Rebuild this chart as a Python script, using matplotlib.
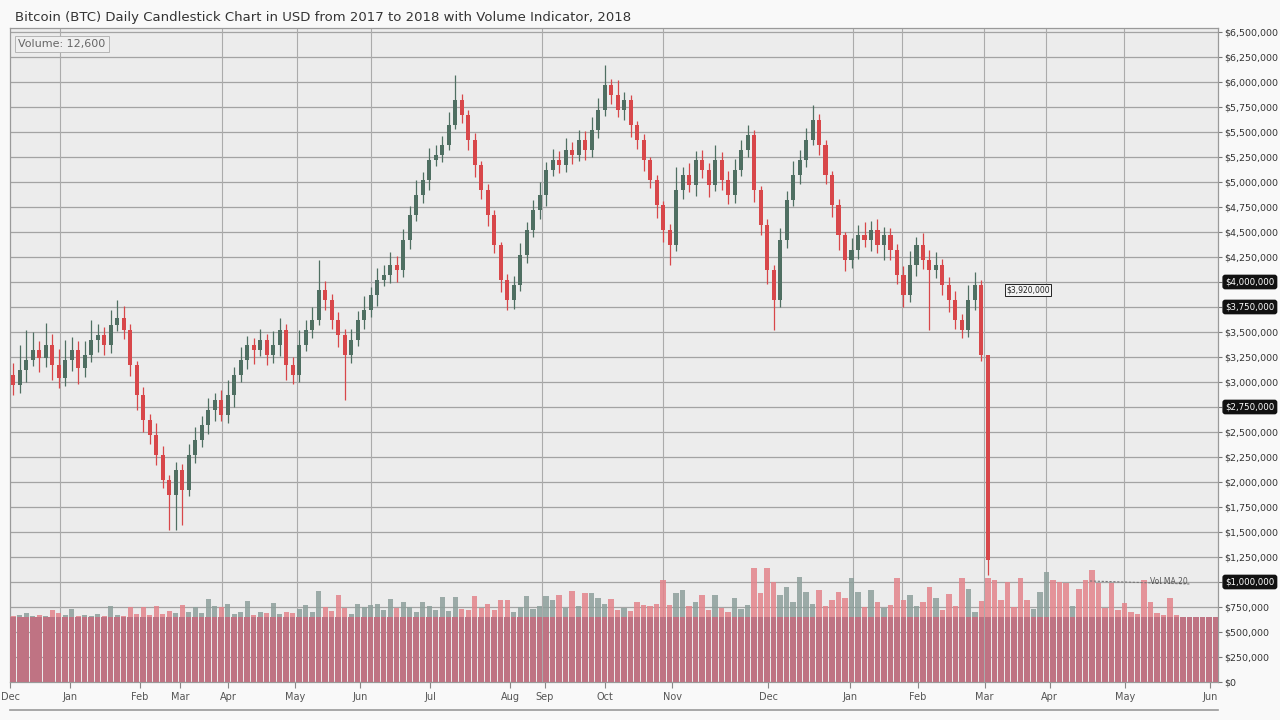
import matplotlib.pyplot as plt
import matplotlib.transforms as mtransforms
import numpy as np
from matplotlib.lines import Line2D
from matplotlib.ticker import FuncFormatter, MultipleLocator

TITLE = ("Bitcoin (BTC) Daily Candlestick Chart in USD from 2017 to 2018 "
         "with Volume Indicator, 2018")
VOLUME_LABEL = "Volume: 12,600"

# daily closes in thousand USD, open of each day = previous close
first_open_k = 3070
close_k = [
    2970, 3120, 3220, 3320, 3240, 3370, 3170, 3040, 3220, 3320,
    3140, 3270, 3420, 3470, 3370, 3570, 3640, 3520, 3170, 2870,
    2620, 2470, 2270, 2020, 1870, 2120, 1920, 2270, 2420, 2570,
    2720, 2820, 2670, 2870, 3070, 3220, 3370, 3320, 3420, 3270,
    3370, 3520, 3170, 3070, 3370, 3520, 3620, 3920, 3820, 3620,
    3470, 3270, 3420, 3620, 3720, 3870, 4020, 4070, 4170, 4120,
    4420, 4670, 4870, 5020, 5220, 5270, 5370, 5570, 5820, 5670,
    5420, 5170, 4920, 4670, 4370, 4020, 3820, 3970, 4270, 4520,
    4720, 4870, 5120, 5220, 5170, 5320, 5270, 5420, 5320, 5520,
    5720, 5970, 5870, 5720, 5820, 5570, 5420, 5220, 5020, 4770,
    4520, 4370, 4920, 5070, 4970, 5220, 5120, 4970, 5220, 5020,
    4870, 5120, 5320, 5470, 4920, 4570, 4120, 3820, 4420, 4820,
    5070, 5220, 5420, 5620, 5370, 5070, 4770, 4470, 4220, 4320,
    4470, 4420, 4520, 4370, 4470, 4320, 4070, 3870, 4170, 4370,
    4220, 4120, 4170, 3970, 3820, 3620, 3520, 3820, 3970, 3270,
    1220,
]
# wick length above / below the body, thousand USD
wick_hi_k = [
    120, 250, 300, 180, 90, 220, 110, 160, 200, 130,
    90, 140, 200, 110, 80, 150, 180, 120, 60, 40,
    80, 60, 120, 90, 50, 80, 60, 110, 130, 90,
    120, 70, 100, 150, 80, 130, 90, 70, 110, 60,
    140, 120, 60, 80, 150, 100, 130, 300, 90, 60,
    80, 60, 110, 90, 140, 80, 120, 100, 130, 90,
    110, 90, 150, 80, 120, 100, 90, 130, 250, 60,
    50, 70, 40, 60, 50, 30, 60, 90, 120, 80,
    100, 130, 80, 110, 90, 120, 80, 100, 90, 130,
    120, 200, 60, 150, 80, 50, 40, 60, 30, 50,
    40, 60, 230, 80, 120, 90, 100, 70, 150, 80,
    90, 110, 100, 100, 50, 40, 60, 50, 120, 90,
    140, 100, 120, 150, 60, 50, 40, 60, 30, 120,
    100, 130, 90, 110, 80, 70, 60, 90, 140, 80,
    120, 100, 130, 60, 80, 90, 60, 150, 130, 50,
    0,
]
wick_lo_k = [
    100, 80, 120, 60, 140, 90, 150, 100, 80, 110,
    160, 90, 70, 120, 100, 80, 60, 90, 110, 150,
    120, 90, 100, 80, 350, 350, 350, 60, 80, 70,
    90, 110, 60, 80, 120, 70, 90, 140, 60, 100,
    80, 110, 150, 90, 70, 60, 80, 50, 100, 90,
    120, 450, 80, 60, 90, 70, 110, 60, 80, 120,
    70, 90, 60, 80, 100, 60, 70, 50, 40, 80,
    100, 120, 90, 110, 80, 120, 100, 90, 60, 80,
    70, 90, 110, 60, 80, 70, 90, 60, 100, 70,
    80, 60, 90, 70, 100, 120, 90, 110, 80, 130,
    120, 200, 60, 90, 70, 110, 80, 120, 60, 100,
    90, 80, 60, 70, 120, 100, 140, 300, 70, 80,
    60, 90, 70, 50, 100, 90, 120, 150, 110, 80,
    90, 70, 110, 80, 150, 100, 90, 120, 70, 110,
    90, 600, 80, 100, 120, 90, 80, 70, 100, 60,
    150,
]
# traded volume (thousand BTC), continues past the last candle
volume = [
    66, 67, 69, 66, 67, 66, 72, 69, 67, 73,
    66, 67, 66, 68, 66, 76, 67, 66, 75, 68,
    75, 67, 76, 68, 71, 69, 77, 70, 75, 69,
    83, 76, 75, 78, 68, 70, 81, 67, 70, 69,
    79, 68, 70, 69, 73, 77, 70, 91, 75, 71,
    87, 74, 68, 78, 75, 77, 78, 72, 83, 74,
    80, 75, 70, 80, 76, 72, 85, 71, 85, 73,
    72, 86, 74, 78, 72, 82, 82, 70, 75, 86,
    73, 76, 86, 82, 87, 74, 91, 76, 89, 89,
    84, 78, 83, 72, 74, 71, 80, 77, 76, 78,
    102, 77, 89, 92, 76, 80, 87, 72, 87, 74,
    70, 84, 73, 77, 114, 89, 114, 100, 87, 95,
    80, 105, 90, 78, 92, 76, 82, 90, 84, 104,
    90, 75, 92, 80, 74, 77, 104, 82, 87, 76,
    80, 95, 84, 72, 88, 76, 104, 93, 70, 81,
    104, 102, 82, 100, 75, 104, 82, 73, 90, 110,
    102, 100, 99, 76, 93, 102, 112, 99, 74, 99,
    72, 79, 70, 68, 102, 80, 69, 67, 84, 67,
    65, 65, 65, 65, 65, 65,
]
vol_floor = 65
grey_extra = [157, 158, 159, 163]
vol_ma_level = 101
month_labels = ["Dec", "Jan", "Feb", "Mar", "Apr", "May", "Jun", "Jul",
                "Aug", "Sep", "Oct", "Nov", "Dec", "Jan", "Feb", "Mar",
                "Apr", "May", "Jun"]
# highlighted price levels on the right scale
price_tags = [4000000, 3750000, 2750000, 1000000]
note_price_k = 3920

# layout
tick_pos = [-0.5, 8.8, 19.5, 25.7, 33.1, 43.4, 53.4, 64.2, 76.5, 81.8,
            91.1, 101.4, 116.2, 128.8, 139.2, 149.5, 159.5, 171.1, 184.2]
vgrid_pos = [7.2, 32.2, 43.7, 55.1, 81.4, 100.0, 129.2, 136.8, 149.4,
             158.9, 170.9]
RED = '#d8474a'
GREEN = '#4f6f62'
VOL_RED = '#e3848b'
VOL_GREY = '#8d9f9b'
VOL_BASE = '#bf7383'
LABEL_SIZE = 6.8

close = np.array(close_k) * 1000.0
opens = np.concatenate([[first_open_k], close_k[:-1]]) * 1000.0
highs = np.maximum(opens, close) + np.array(wick_hi_k) * 1000.0
lows = np.minimum(opens, close) - np.array(wick_lo_k) * 1000.0
idx = np.arange(len(close))
up = close >= opens

fig = plt.figure(figsize=(12.8, 7.2), dpi=100, facecolor='#f9f9f9')
ax = fig.add_axes([10 / 1280, 38 / 720, 1208 / 1280, 654 / 720])
ax.set_facecolor('#ececec')

for spine in ax.spines.values():
    spine.set_color('#9a9a9a')
    spine.set_linewidth(0.9)

# volume on a twin axis (created first, twinx resets tick sides)
ax2 = ax.twinx()
ax2.set_ylim(0, 654)
ax2.set_yticks([])
for spine in ax2.spines.values():
    spine.set_visible(False)

# candles
cols = np.where(up, GREEN, RED)
ax.vlines(idx, lows, highs, colors=cols, linewidth=0.9, zorder=3)
ax.bar(idx, np.maximum(np.abs(close - opens), 20000),
       bottom=np.minimum(opens, close), width=0.62, color=cols,
       linewidth=0, zorder=4)


def price_label(v, _):
    # tagged levels get their own black label instead
    if any(abs(v - t) < 1 for t in price_tags):
        return ''
    return f"${v:,.0f}"


ax.set_xlim(-0.46, 185.4)
ax.set_ylim(0, 6540000)
ax.yaxis.set_ticks_position('right')
ax.yaxis.set_label_position('right')
ax.yaxis.set_major_locator(MultipleLocator(250000))
ax.yaxis.set_major_formatter(FuncFormatter(price_label))
ax.tick_params(axis='y', labelsize=LABEL_SIZE, labelcolor='#333333',
               color='#777777', length=3, width=0.8, pad=1.5,
               left=False, labelleft=False, right=True, labelright=True)
ax.grid(axis='y', color='#a3a3a3', linewidth=0.9, zorder=0)
ax.set_axisbelow(True)
for xv in vgrid_pos:
    ax.axvline(xv, color='#ababab', linewidth=0.8, zorder=1)

ax.set_xticks(tick_pos)
ax.set_xticklabels(month_labels)
ax.tick_params(axis='x', labelsize=7, labelcolor='#555555',
               color='#888888', length=4, width=0.8, pad=3)

vidx = np.arange(len(volume))
vcols = []
for i in vidx:
    if i < len(close):
        vcols.append(VOL_GREY if up[i] else VOL_RED)
    else:
        vcols.append(VOL_GREY if i in grey_extra else VOL_RED)
ax2.bar(vidx, volume, width=0.8, color=vcols, alpha=0.85, linewidth=0)
ax2.bar(vidx, [vol_floor] * len(vidx), width=0.85, color=VOL_BASE,
        linewidth=0)
ax2.plot([165.7, 181.0], [vol_ma_level, vol_ma_level - 3], color='#777777',
         linewidth=0.8, linestyle=(0, (2, 1.5)))
ax2.text(175, vol_ma_level - 1, "Vol MA 20", fontsize=5.5,
         color='#555555', va='center')

# labels and tags
ax.text(0.007, 0.983, VOLUME_LABEL, transform=ax.transAxes, fontsize=8,
        color='#666666', va='top', ha='left',
        bbox=dict(boxstyle='square,pad=0.3', facecolor='#efefef',
                  edgecolor='#b5b5b5', linewidth=0.7))
trans = mtransforms.blended_transform_factory(ax.transAxes, ax.transData)
for tag in price_tags:
    ax.text(1.006, tag, f"${tag:,}", transform=trans,
            fontsize=LABEL_SIZE - 0.6, color='white', va='center',
            ha='left', clip_on=False, zorder=10,
            bbox=dict(boxstyle='round,pad=0.25', facecolor='#111111',
                      edgecolor='#111111'))
ax.text(152.8, note_price_k * 1000, f"${note_price_k * 1000:,}",
        fontsize=5.5, color='#222222', va='center', ha='left', zorder=6,
        bbox=dict(boxstyle='square,pad=0.2', facecolor='#f4f4f4',
                  edgecolor='#222222', linewidth=0.7))

fig.text(0.012, 0.976, TITLE, fontsize=9.5, color='#333333', va='center',
         ha='left')
fig.add_artist(Line2D([10 / 1280, 1218 / 1280], [10 / 720, 10 / 720],
                      color='#9a9a9a', linewidth=1.2))

fig.savefig('out.png', dpi=100, facecolor=fig.get_facecolor())
